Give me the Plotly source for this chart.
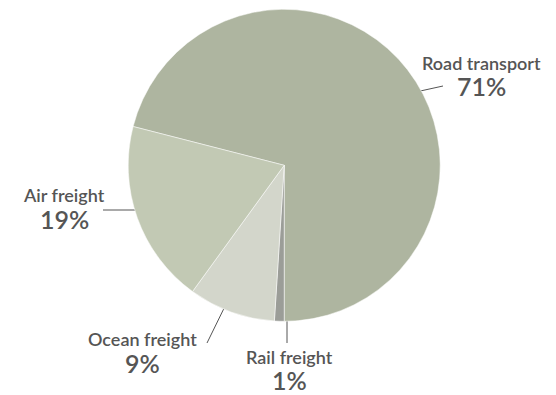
import plotly.graph_objects as go

# Freight transport share by mode (percent)
modes = ["Road transport", "Rail freight", "Ocean freight", "Air freight"]
shares = [71, 1, 9, 19]
colors = ["#aeb5a0", "#9b9d98", "#d3d6cb", "#c2c9b4"]

W, H = 556, 395
# pie geometry in pixels (centre and radius)
CX, CY, R = 284.2, 165.3, 156.0

# label placement (pixel coords): name centre, percent centre, leader line
label_layout = {
    "Road transport": dict(x=481, name_y=63, pct_y=86, line=((393, 97), (443, 86))),
    "Rail freight": dict(x=289, name_y=357, pct_y=380, line=((287, 292), (287, 343))),
    "Ocean freight": dict(x=142, name_y=339, pct_y=363, line=((231, 294), (207, 343))),
    "Air freight": dict(x=64, name_y=195, pct_y=219, line=((153, 210), (103, 210))),
}

total = sum(shares)
# the first slice ends straight down at 6 o'clock
rotation = 180 - 360 * shares[0] / total

fig = go.Figure()
fig.add_trace(go.Pie(
    labels=modes,
    values=shares,
    sort=False,
    direction="clockwise",
    rotation=rotation,
    marker=dict(colors=colors, line=dict(color="white", width=0.5)),
    textinfo="none",
    hovertemplate="%{label}: %{percent}<extra></extra>",
    showlegend=False,
    domain=dict(x=[(CX - R) / W, (CX + R) / W],
                y=[(H - CY - R) / H, (H - CY + R) / H]),
))

text_color = "#555555"
font_family = "Lato, 'Open Sans', sans-serif"
annotations = []
for name, val in zip(modes, shares):
    spec = label_layout[name]
    (x0, y0), (x1, y1) = spec["line"]
    fig.add_trace(go.Scatter(
        x=[x0, x1], y=[y0, y1], mode="lines",
        line=dict(color=text_color, width=1),
        hoverinfo="skip", showlegend=False,
    ))
    pct = round(100 * val / total)
    annotations.append(dict(
        x=spec["x"], y=spec["name_y"], xref="x", yref="y",
        text=name, showarrow=False, xanchor="center", yanchor="middle",
        borderpad=0,
        font=dict(family=font_family, size=18, color=text_color, weight=600),
    ))
    annotations.append(dict(
        x=spec["x"], y=spec["pct_y"], xref="x", yref="y",
        text=f"{pct}%", showarrow=False, xanchor="center", yanchor="middle",
        borderpad=0,
        font=dict(family=font_family, size=25, color=text_color, weight=600),
    ))

fig.update_layout(
    width=W, height=H,
    margin=dict(l=0, r=0, t=0, b=0),
    paper_bgcolor="white", plot_bgcolor="rgba(0,0,0,0)",
    xaxis=dict(range=[0, W], visible=False, fixedrange=True),
    yaxis=dict(range=[H, 0], visible=False, fixedrange=True),
    annotations=annotations,
)

fig.write_html("out.html")
